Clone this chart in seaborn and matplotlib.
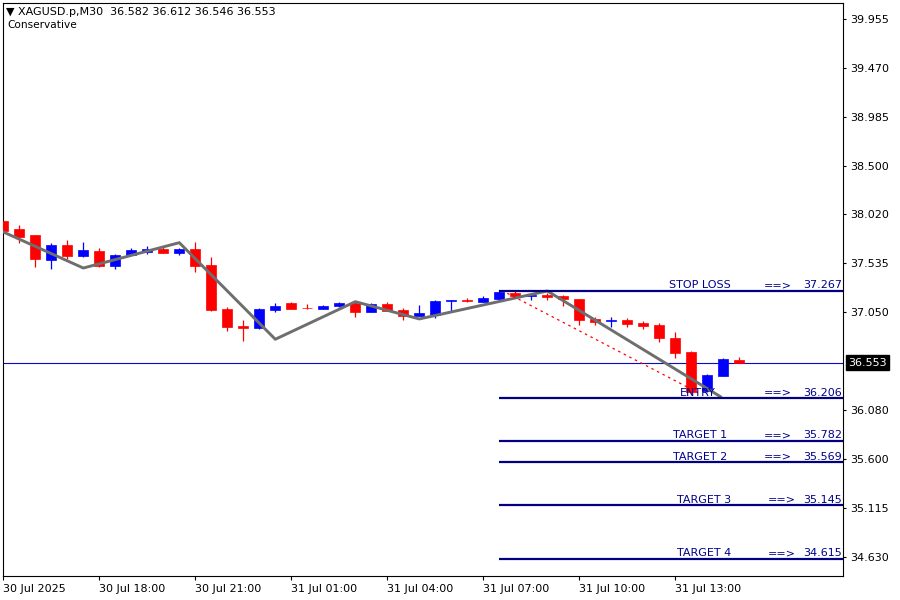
import matplotlib
matplotlib.use("Agg")
import matplotlib.pyplot as plt
import matplotlib.transforms as mtransforms
import seaborn as sns
import numpy as np
import pandas as pd

# ---------------- data ----------------
header_text = "\u25bc XAGUSD.p,M30  36.582 36.612 36.546 36.553"
indicator_name = "Conservative"

opens = [37.959, 37.876, 37.817, 37.573, 37.718, 37.612, 37.659, 37.513, 37.622, 37.649,
         37.678, 37.642, 37.678, 37.523, 37.085, 36.916, 36.900, 37.078, 37.144, 37.094,
         37.082, 37.111, 37.144, 37.052, 37.134, 37.075, 37.012, 37.022, 37.167, 37.171,
         37.154, 37.184, 37.243, 37.213, 37.223, 37.213, 37.184, 36.986, 36.962, 36.976,
         36.949, 36.926, 36.797, 36.659, 36.276, 36.424, 36.582]
highs = [37.965, 37.916, 37.820, 37.738, 37.768, 37.748, 37.688, 37.629, 37.688, 37.708,
         37.695, 37.688, 37.748, 37.599, 37.104, 36.976, 37.094, 37.144, 37.154, 37.134,
         37.124, 37.154, 37.151, 37.141, 37.154, 37.094, 37.124, 37.171, 37.177, 37.193,
         37.213, 37.272, 37.262, 37.239, 37.246, 37.223, 37.184, 37.006, 37.002, 36.996,
         36.966, 36.943, 36.856, 36.669, 36.444, 36.600, 36.612]
lows = [37.850, 37.741, 37.503, 37.484, 37.582, 37.602, 37.503, 37.484, 37.619, 37.632,
        37.642, 37.622, 37.451, 37.065, 36.870, 36.771, 36.890, 37.058, 37.085, 37.088,
        37.082, 37.104, 37.002, 37.050, 37.062, 36.973, 37.012, 36.992, 37.065, 37.151,
        37.154, 37.164, 37.193, 37.171, 37.171, 37.117, 36.923, 36.926, 36.906, 36.906,
        36.884, 36.761, 36.603, 36.243, 36.263, 36.424, 36.546]
closes = [37.860, 37.800, 37.582, 37.718, 37.612, 37.669, 37.513, 37.619, 37.669, 37.678,
          37.642, 37.678, 37.513, 37.075, 36.909, 36.897, 37.085, 37.114, 37.085, 37.090,
          37.114, 37.144, 37.052, 37.134, 37.062, 37.015, 37.045, 37.164, 37.171, 37.167,
          37.193, 37.253, 37.216, 37.223, 37.200, 37.181, 36.976, 36.956, 36.973, 36.936,
          36.916, 36.800, 36.652, 36.263, 36.431, 36.590, 36.553]

zigzag_idx = [0, 5, 11, 17, 22, 26, 34, 44.85]
zigzag_price = [37.847, 37.490, 37.741, 36.785, 37.157, 36.986, 37.263, 36.214]

trend_idx = [31.5, 43.5]
trend_price = [37.240, 36.250]

level_names = ["STOP LOSS", "ENTRY", "TARGET 1", "TARGET 2", "TARGET 3", "TARGET 4"]
level_values = [37.267, 36.206, 35.782, 35.569, 35.145, 34.615]
level_value_labels = ["37.267", "36.206", "35.782", "35.569", "35.145", "34.615"]
level_start_idx = 31

current_price = 36.553
current_price_label = "36.553"

ytick_values = [39.955, 39.470, 38.985, 38.500, 38.020, 37.535, 37.050,
                36.080, 35.600, 35.115, 34.630]
ytick_labels = ["39.955", "39.470", "38.985", "38.500", "38.020", "37.535", "37.050",
                "36.080", "35.600", "35.115", "34.630"]
xtick_idx = [0, 6, 12, 18, 24, 30, 36, 42]
xtick_labels = ["30 Jul 2025", "30 Jul 18:00", "30 Jul 21:00", "31 Jul 01:00",
                "31 Jul 04:00", "31 Jul 07:00", "31 Jul 10:00", "31 Jul 13:00"]

# ---------------- style ----------------
sns.set_theme(style="white")
plt.rcParams['font.family'] = ['DejaVu Sans']

fig = plt.figure(figsize=(9, 6), dpi=100)
fig.patch.set_facecolor("white")
ax = fig.add_axes([3 / 900, 24 / 600, 840 / 900, 573 / 600])
ax.set_facecolor("white")

XMIN, XMAX = -0.019, 52.48
ax.set_xlim(XMIN, XMAX)
ax.set_ylim(34.442, 40.113)

df = pd.DataFrame({"o": opens, "h": highs, "l": lows, "c": closes})
df["idx"] = np.arange(len(df))
bull = df["c"] >= df["o"]
colors = np.where(bull, "#0000ff", "#ff0000")

# current price line
ax.axhline(current_price, color="#0a0ac8", lw=0.8, zorder=1)

# wicks + bodies
ax.vlines(df["idx"], df["l"], df["h"], colors=colors, linewidth=0.9, zorder=2)
ax.bar(df["idx"], (df["c"] - df["o"]).abs(), bottom=np.minimum(df["o"], df["c"]),
       width=0.64, color=colors, edgecolor=colors, linewidth=0.5, zorder=3)

# zigzag
sns.lineplot(x=zigzag_idx, y=zigzag_price, ax=ax, color="#6e6e6e", linewidth=2.1,
             zorder=4, legend=False)
# dotted red trend line
ax.plot(trend_idx, trend_price, color="#ff0000", lw=0.9, ls=(0, (2, 3)), zorder=4)

# level lines
ax.hlines(level_values, level_start_idx, XMAX, color="#000080", linewidth=1.6, zorder=5)
name_x = [43.55, 43.4, 43.55, 43.55, 43.8, 43.8]
arrow_x = [48.4, 48.4, 48.4, 48.4, 48.65, 48.65]
for nm, val, vl, nx, axx in zip(level_names, level_values, level_value_labels, name_x, arrow_x):
    kw = dict(textcoords="offset points", xytext=(0, 1.6), va="baseline",
              fontsize=8, color="#00008b", zorder=6)
    ax.annotate(nm, (nx, val), ha="center", **kw)
    ax.annotate("==>", (axx, val), ha="center", **kw)
    ax.annotate(vl, (52.42, val), ha="right", **kw)

# axes / ticks
for s in ax.spines.values():
    s.set_color("black")
    s.set_linewidth(0.8)
    s.set_visible(True)
ax.yaxis.tick_right()
ax.set_yticks(ytick_values)
ax.set_yticklabels(ytick_labels)
ax.set_xticks(xtick_idx)
ax.set_xticklabels(xtick_labels)
for lbl in ax.get_xticklabels():
    lbl.set_ha("left")
ax.tick_params(axis="y", which="both", right=True, left=False, direction="out",
               length=2.5, width=0.8, pad=3, labelsize=8, colors="black")
ax.tick_params(axis="x", which="both", bottom=True, direction="out",
               length=3, width=0.8, pad=2.5, labelsize=8, colors="black")
ax.grid(False)
ax.set_xlabel("")
ax.set_ylabel("")

# current price box
trans = mtransforms.blended_transform_factory(ax.transAxes, ax.transData)
ax.text(1.0065, current_price, current_price_label, transform=trans, color="white",
        fontsize=8, va="center", ha="left", clip_on=False, zorder=10,
        bbox=dict(boxstyle="square,pad=0.2", fc="black", ec="black"))

# header
fig.text(6 / 900, 1 - 12 / 600, header_text, fontsize=8, va="center", ha="left", color="black")
fig.text(7 / 900, 1 - 25 / 600, indicator_name, fontsize=7.6, va="center", ha="left", color="black")

fig.savefig("out.png", dpi=100)
